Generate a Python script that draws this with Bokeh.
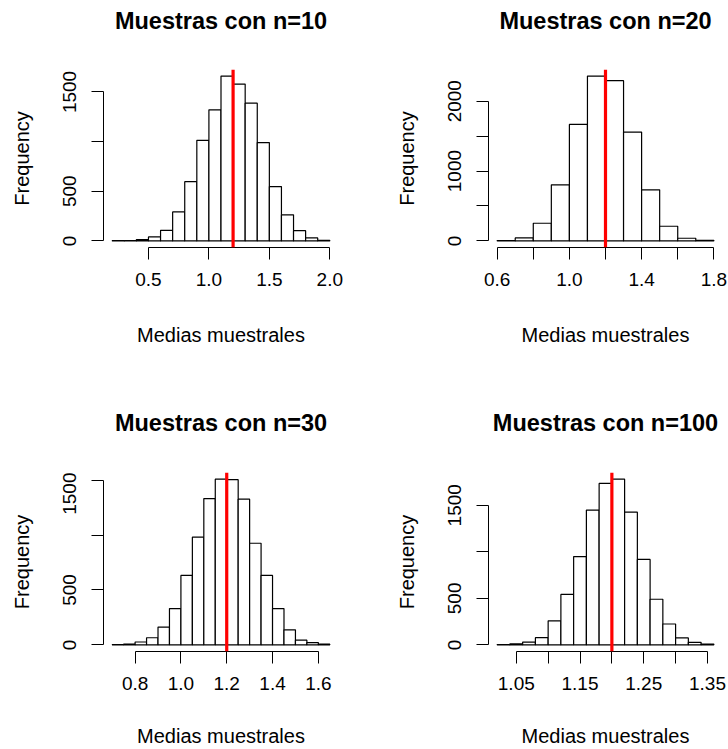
from bokeh.plotting import figure
from bokeh.layouts import gridplot
from bokeh.models import FixedTicker, Span, Range1d
from bokeh.embed import file_html
from bokeh.resources import INLINE

# Sampling distributions of the sample mean: 10000 samples for each sample size
titles = ["Muestras con n=10", "Muestras con n=20", "Muestras con n=30", "Muestras con n=100"]

# Histogram bin edges (start, stop, width) and counts for each sample size
bins_n10 = (0.2, 2.0, 0.1)
counts_n10 = [2, 4, 13, 40, 107, 292, 597, 1013, 1320, 1660, 1580, 1387, 990, 547, 263, 103, 30, 5]

bins_n20 = (0.6, 1.8, 0.1)
counts_n20 = [5, 43, 253, 803, 1668, 2360, 2294, 1559, 732, 210, 38, 9]

bins_n30 = (0.70, 1.65, 0.05)
counts_n30 = [2, 7, 26, 65, 162, 331, 633, 981, 1333, 1510, 1505, 1327, 926, 633, 331, 137, 43, 21, 6]

bins_n100 = (1.02, 1.36, 0.02)
counts_n100 = [4, 12, 30, 77, 258, 542, 949, 1448, 1735, 1781, 1426, 918, 490, 224, 75, 27, 9]

# Reference value of the population mean
mu = 1.2

# Axis ticks and the subset of them that carry a label
xticks_n10 = [0.5, 1.0, 1.5, 2.0]
xlabels_n10 = ["0.5", "1.0", "1.5", "2.0"]
xticks_n20 = [0.6, 0.8, 1.0, 1.2, 1.4, 1.6, 1.8]
xlabels_n20 = ["0.6", "", "1.0", "", "1.4", "", "1.8"]
xticks_n30 = [0.8, 1.0, 1.2, 1.4, 1.6]
xlabels_n30 = ["0.8", "1.0", "1.2", "1.4", "1.6"]
xticks_n100 = [1.05, 1.10, 1.15, 1.20, 1.25, 1.30, 1.35]
xlabels_n100 = ["1.05", "", "1.15", "", "1.25", "", "1.35"]

yticks_1500 = [0, 500, 1000, 1500]
ylabels_1500 = ["0", "500", "", "1500"]
yticks_2000 = [0, 500, 1000, 1500, 2000]
ylabels_2000 = ["0", "", "1000", "", "2000"]

FONT = "Liberation Sans"


def edges_from(spec, n):
    start, stop, step = spec
    return [round(start + i * step, 4) for i in range(n + 1)]


def title_strip(text, width, height, left, right):
    # empty strip that only carries the bold main title of a panel
    t = figure(width=width, height=height, output_backend="svg",
               toolbar_location=None, tools="",
               x_range=Range1d(0, 1), y_range=Range1d(0, 1),
               x_axis_location=None, y_axis_location=None,
               min_border_left=left, min_border_right=right,
               min_border_top=0, min_border_bottom=0,
               background_fill_color="white", border_fill_color="white")
    t.outline_line_color = None
    t.xgrid.visible = False
    t.ygrid.visible = False
    t.title.text = text
    t.title.align = "center"
    t.title.text_font = FONT
    t.title.text_font_size = "23.5px"
    t.title.text_font_style = "bold"
    t.title.text_color = "black"
    t.title.standoff = 10
    return t


def panel(spec, counts, xticks, xlabels, yticks, ylabels,
          width, height, left, right, bottom, label_gap):
    edges = edges_from(spec, len(counts))
    lo, hi = edges[0], edges[-1]
    pad = 0.04 * (hi - lo)
    ymax = max(counts)
    p = figure(width=width, height=height, output_backend="svg",
               toolbar_location=None, tools="", title_location=None,
               x_range=Range1d(lo - pad, hi + pad),
               y_range=Range1d(-0.04 * ymax, 1.04 * ymax),
               min_border_left=left, min_border_right=right,
               min_border_top=0, min_border_bottom=bottom,
               background_fill_color="white", border_fill_color="white")
    p.outline_line_color = None
    p.xgrid.visible = False
    p.ygrid.visible = False

    p.quad(left=edges[:-1], right=edges[1:], bottom=0, top=counts,
           fill_color="white", line_color="black", line_width=1.2)
    p.add_layout(Span(location=mu, dimension="height",
                      line_color="#ff0000", line_width=3.2))

    xa = p.xaxis[0]
    xa.ticker = FixedTicker(ticks=xticks, minor_ticks=[])
    xa.major_label_overrides = {t: s for t, s in zip(xticks, xlabels)}
    xa.bounds = (xticks[0], xticks[-1])
    xa.axis_label = "Medias muestrales"
    ya = p.yaxis[0]
    ya.ticker = FixedTicker(ticks=yticks, minor_ticks=[])
    ya.major_label_overrides = {t: s for t, s in zip(yticks, ylabels)}
    ya.bounds = (yticks[0], yticks[-1])
    ya.axis_label = "Frequency"
    ya.major_label_orientation = "parallel"

    for ax in (xa, ya):
        ax.axis_line_color = "black"
        ax.axis_line_width = 1
        ax.major_tick_line_color = "black"
        ax.major_tick_out = 12
        ax.major_tick_in = 0
        ax.minor_tick_line_color = None
        ax.major_label_text_font = FONT
        ax.major_label_text_font_size = "19px"
        ax.major_label_text_color = "black"
        ax.axis_label_text_font = FONT
        ax.axis_label_text_font_size = "20px"
        ax.axis_label_text_font_style = "normal"
        ax.axis_label_text_color = "black"
    xa.major_label_standoff = 13
    xa.axis_label_standoff = label_gap
    ya.major_label_standoff = 15
    ya.axis_label_standoff = 28
    return p


t1 = title_strip(titles[0], 364, 69, 103, 26)
t2 = title_strip(titles[1], 364, 69, 124, 6)
p1 = panel(bins_n10, counts_n10, xticks_n10, xlabels_n10,
           yticks_1500, ylabels_1500, 364, 333, 103, 26, 155, 35)
p2 = panel(bins_n20, counts_n20, xticks_n20, xlabels_n20,
           yticks_2000, ylabels_2000, 364, 333, 124, 6, 155, 35)

t3 = title_strip(titles[2], 364, 70, 103, 26)
t4 = title_strip(titles[3], 364, 70, 124, 6)
p3 = panel(bins_n30, counts_n30, xticks_n30, xlabels_n30,
           yticks_1500, ylabels_1500, 364, 277, 103, 26, 98, 32)
p4 = panel(bins_n100, counts_n100, xticks_n100, xlabels_n100,
           yticks_1500, ylabels_1500, 364, 277, 124, 6, 98, 32)

grid = gridplot([[t1, t2], [p1, p2], [t3, t4], [p3, p4]], toolbar_location=None)

open("out.html", "w").write(file_html(grid, INLINE))
